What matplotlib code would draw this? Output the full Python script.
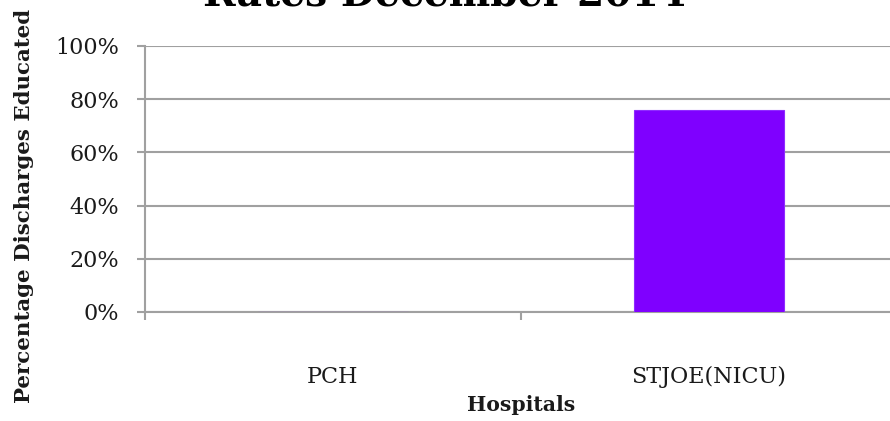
import matplotlib
matplotlib.use("Agg")
import matplotlib.pyplot as plt
from matplotlib.ticker import PercentFormatter, FixedLocator
import numpy as np

title = "Rates December 2014"
categories = ["PCH", "STJOE(NICU)"]
values = [0.0, 0.76]
y_ticks = [0.0, 0.2, 0.4, 0.6, 0.8, 1.0]
x_label = "Hospitals"
y_label = "Percentage Discharges Educated"

W, H = 890, 421
fig = plt.figure(figsize=(W / 100, H / 100), dpi=100)
ax = fig.add_axes([145 / W, 109 / H, 752 / W, 266 / H])

grid_c = "#a0a0a0"
font = "DejaVu Serif"

x = np.arange(len(categories)) + 0.5
ax.bar(x, values, width=0.4, color="#7f00ff", edgecolor="#8f2bff", linewidth=0.8, zorder=3)

ax.set_xlim(0, len(categories))
ax.set_ylim(0, 1.0)
ax.set_yticks(y_ticks)
ax.yaxis.set_major_formatter(PercentFormatter(1.0, decimals=0))
ax.grid(axis="y", color=grid_c, linewidth=1.5, zorder=0)
ax.set_axisbelow(True)

ax.set_xticks(x)
ax.set_xticklabels(categories, fontfamily=font, fontsize=16)
ax.xaxis.set_minor_locator(FixedLocator(np.arange(len(categories) + 1)))
ax.tick_params(axis="x", which="major", length=0, pad=39, colors="#1a1a1a")
ax.tick_params(axis="x", which="minor", length=5.8, width=1.5, color=grid_c, direction="out")
ax.tick_params(axis="y", length=5.8, width=1.5, color=grid_c, pad=13, labelsize=16, labelcolor="#1a1a1a")
for lab in ax.get_yticklabels():
    lab.set_fontfamily(font)

for s in ["top", "right"]:
    ax.spines[s].set_visible(False)
for s in ["left", "bottom"]:
    ax.spines[s].set_color(grid_c)
    ax.spines[s].set_linewidth(1.5)

ax.set_xlabel(x_label, fontfamily=font, fontweight="bold", fontsize=14.7, color="#1a1a1a")
ax.xaxis.set_label_coords(0.5, -(411 - 312) / 266)
ax.xaxis.label.set_va("baseline")

ax.set_ylabel(y_label, fontfamily=font, fontweight="bold", fontsize=15.4, color="#1a1a1a")
ax.yaxis.set_label_coords((24 - 145) / 752, (312 - 206) / 266)
ax.yaxis.label.set_va("center")

fig.text(445 / W, 1 - 5 / H, title, ha="center", va="baseline",
         fontfamily=font, fontweight="bold", fontsize=28.3, color="#000000")

fig.savefig("out.png", dpi=100)
